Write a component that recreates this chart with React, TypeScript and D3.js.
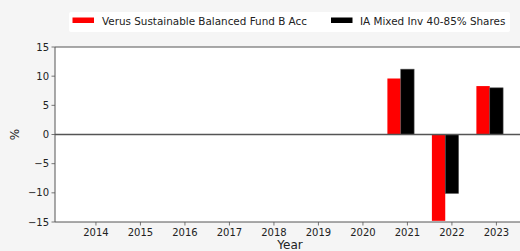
import React from "react";
import * as d3 from "d3";

const years = [2014, 2015, 2016, 2017, 2018, 2019, 2020, 2021, 2022, 2023];
const fundValues: (number | null)[] = [null, null, null, null, null, null, null, 9.6, -14.8, 8.3];
const sectorValues: (number | null)[] = [null, null, null, null, null, null, null, 11.2, -10.1, 8.0];
const yTicks = [-15, -10, -5, 0, 5, 10, 15];
const seriesNames = ["Verus Sustainable Balanced Fund B Acc", "IA Mixed Inv 40-85% Shares"];
const seriesColors = ["#ff0000", "#000000"];

const W = 520, H = 251;
const left = 55, right = 520, top = 47, bottom = 222;
const barW = 0.3;

export default function App() {
  const x = d3.scaleLinear().domain([2013.08, 2023.53]).range([left, right]);
  const y = d3.scaleLinear().domain([-15, 15]).range([bottom, top]);
  const font = "DejaVu Sans, sans-serif";
  const bars: JSX.Element[] = [];
  years.forEach((yr, i) => {
    const f = fundValues[i];
    const s = sectorValues[i];
    if (f != null) {
      const x0 = x(yr - barW * 1.5), x1 = x(yr - barW * 0.5);
      bars.push(<rect key={"f" + yr} x={x0} width={x1 - x0} y={Math.min(y(f), y(0))} height={Math.abs(y(f) - y(0))} fill={seriesColors[0]} />);
    }
    if (s != null) {
      const x0 = x(yr - barW * 0.5), x1 = x(yr + barW * 0.5);
      bars.push(<rect key={"s" + yr} x={x0} width={x1 - x0} y={Math.min(y(s), y(0))} height={Math.abs(y(s) - y(0))} fill={seriesColors[1]} stroke="#555" strokeWidth={0.6} />);
    }
  });
  return (
    <svg width={W} height={H} style={{ position: "absolute", left: 0, top: 0, display: "block" }} fontFamily={font}>
      <rect x={0} y={0} width={W} height={H} fill="#f5f5f5" />
      <rect x={left} y={top} width={right - left} height={bottom - top} fill="#ffffff" />
      {bars}
      <line x1={left} x2={right} y1={y(0)} y2={y(0)} stroke="#555" strokeWidth={1.6} />
      <line x1={left} x2={right} y1={top} y2={top} stroke="#555" strokeWidth={1} />
      <line x1={left} x2={right} y1={bottom} y2={bottom} stroke="#555" strokeWidth={1} />
      <line x1={left} x2={left} y1={top} y2={bottom} stroke="#555" strokeWidth={1} />
      {yTicks.map((t) => (
        <g key={t}>
          <line x1={left - 3.5} x2={left} y1={y(t)} y2={y(t)} stroke="#555" strokeWidth={0.8} />
          <text x={left - 6} y={y(t)} dy="0.35em" textAnchor="end" fontSize={10} fill="#222">
            {t < 0 ? "\u2212" + Math.abs(t) : t}
          </text>
        </g>
      ))}
      {years.map((yr) => (
        <g key={yr}>
          <line x1={x(yr)} x2={x(yr)} y1={bottom} y2={bottom + 3.5} stroke="#555" strokeWidth={0.8} />
          <text x={x(yr)} y={bottom + 14} textAnchor="middle" fontSize={10} fill="#222">{yr}</text>
        </g>
      ))}
      <text x={290} y={249} textAnchor="middle" fontSize={12} fill="#222">Year</text>
      <text transform={`translate(19,${(top + bottom) / 2}) rotate(-90)`} textAnchor="middle" fontSize={12} fill="#222">%</text>
      <rect x={69} y={12} width={441} height={20} rx={2} fill="#ffffff" />
      <rect x={72.5} y={17.5} width={21.5} height={5.5} fill={seriesColors[0]} />
      <text x={102} y={21.5} dy="0.35em" fontSize={10.4} fill="#222">{seriesNames[0]}</text>
      <rect x={331} y={17.5} width={21.5} height={5.5} fill={seriesColors[1]} />
      <text x={360} y={21.5} dy="0.35em" fontSize={10.4} fill="#222">{seriesNames[1]}</text>
    </svg>
  );
}
